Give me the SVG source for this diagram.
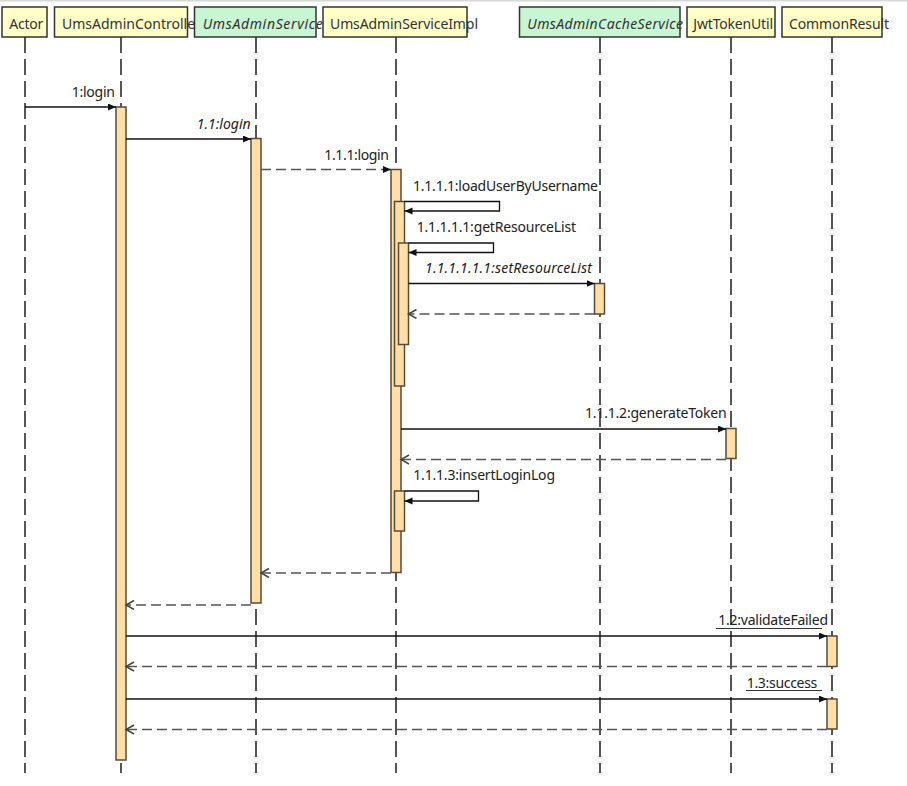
<svg xmlns="http://www.w3.org/2000/svg" width="907" height="786" viewBox="0 0 907 786">
<defs>
<style>
.hd{stroke:#333;stroke-width:1.5}
.y{fill:#FFFFC8}
.g{fill:#C8F5D2}
.ll{stroke:#555;stroke-width:2;stroke-dasharray:16 6;fill:none}
.act{fill:#FFDFA6;stroke:#5a4a38;stroke-width:1.5}
.t{font-family:"Noto Sans",sans-serif;font-size:14px;fill:#222}
.ht{fill:#333}
.i{font-style:italic}
.msg{stroke:#111;stroke-width:1.3;fill:none;marker-end:url(#fa)}
.dm{stroke:#555;stroke-width:1.5;stroke-dasharray:10 5;fill:none;marker-end:url(#fa)}
.ret{stroke:#555;stroke-width:1.5;stroke-dasharray:10 5;fill:none;marker-end:url(#oa)}
.ul{stroke:#333;stroke-width:1}
</style>
<marker id="fa" markerUnits="userSpaceOnUse" markerWidth="10" markerHeight="10" refX="8" refY="3.5" orient="auto" viewBox="0 0 10 10">
<path d="M0,0 L8,3.5 L0,7 z" fill="#111"/>
</marker>
<marker id="oa" markerUnits="userSpaceOnUse" markerWidth="12" markerHeight="12" refX="9" refY="5" orient="auto" viewBox="0 0 12 12">
<path d="M1,0.5 L9,5 L1,9.5" fill="none" stroke="#444" stroke-width="1.5"/>
</marker>
</defs>
<rect width="907" height="786" fill="#fff"/>
<line x1="0" y1="0.5" x2="907" y2="0.5" stroke="#d8d8d8" stroke-width="2"/>

<g id="actor">
<line class="ll" x1="25" y1="37" x2="25" y2="773"/>
<rect class="hd y" x="2" y="7" width="45" height="30"/>
<text class="t ht" x="9.3" y="29" textLength="34">Actor</text>
</g>

<g id="controller">
<line class="ll" x1="121" y1="37" x2="121" y2="773"/>
<rect class="hd y" x="54.5" y="7" width="133" height="30"/>
<text class="t ht" x="62" y="29">UmsAdminControlle</text>
<rect class="act" x="116" y="107" width="10" height="653"/>
</g>

<g id="service">
<line class="ll" x1="256" y1="37" x2="256" y2="773"/>
<rect class="hd g" x="194.5" y="7" width="121.5" height="30"/>
<text class="t ht i" x="202.7" y="29" textLength="120">UmsAdminService</text>
<rect class="act" x="251" y="138.5" width="10" height="464.5"/>
</g>

<g id="serviceImpl">
<line class="ll" x1="396" y1="37" x2="396" y2="773"/>
<rect class="hd y" x="323" y="7" width="144" height="30"/>
<text class="t ht" x="330" y="29" textLength="148">UmsAdminServiceImpl</text>
<rect class="act" x="391" y="169.5" width="10" height="403"/>
<rect class="act" x="394.5" y="201.5" width="10" height="184.5"/>
<rect class="act" x="398.5" y="243" width="10" height="101.5"/>
<rect class="act" x="394.5" y="491" width="10" height="40"/>
</g>

<g id="cacheService">
<line class="ll" x1="600" y1="37" x2="600" y2="773"/>
<rect class="hd g" x="519.5" y="7" width="160.5" height="30"/>
<text class="t ht i" x="527.3" y="29" textLength="155.7">UmsAdminCacheService</text>
<rect class="act" x="594.5" y="283.5" width="10" height="30.5"/>
</g>

<g id="jwtTokenUtil">
<line class="ll" x1="731" y1="37" x2="731" y2="773"/>
<rect class="hd y" x="687" y="7" width="88" height="30"/>
<text class="t ht" x="693.3" y="29" textLength="79.7">JwtTokenUtil</text>
<rect class="act" x="726" y="428.5" width="10" height="30"/>
</g>

<g id="commonResult">
<line class="ll" x1="832" y1="37" x2="832" y2="773"/>
<rect class="hd y" x="782" y="7" width="100" height="30"/>
<text class="t ht" x="789" y="29" textLength="100">CommonResult</text>
<rect class="act" x="827" y="636" width="10" height="30.5"/>
<rect class="act" x="827" y="699" width="10" height="30"/>
</g>

<g id="connectors">
<path class="msg" d="M25,107 H116"/>
<text class="t" x="71.7" y="97" textLength="43.3">1:login</text>
<path class="msg" d="M126,139 H251"/>
<text class="t i" x="196.7" y="128.5" textLength="54">1.1:login</text>
<path class="dm" d="M261,169.5 H391"/>
<text class="t" x="324.3" y="159.5" textLength="64.7">1.1.1:login</text>
<path class="msg" d="M404.5,201.5 H499.5 V211 H404.5"/>
<text class="t" x="413" y="190.5" textLength="185">1.1.1.1:loadUserByUsername</text>
<path class="msg" d="M408.5,243 H493.5 V252.5 H408.5"/>
<text class="t" x="416.7" y="231.5" textLength="159.3">1.1.1.1.1:getResourceList</text>
<path class="msg" d="M408.5,283.5 H594.5"/>
<text class="t i" x="425" y="273" textLength="167">1.1.1.1.1.1:setResourceList</text>
<path class="ret" d="M594.5,314 H408.5"/>
<path class="msg" d="M401,429 H726"/>
<text class="t" x="585" y="418" textLength="141.7">1.1.1.2:generateToken</text>
<path class="ret" d="M726,459.5 H401"/>
<path class="msg" d="M404.5,491 H478.5 V501 H404.5"/>
<text class="t" x="413.3" y="480" textLength="141.7">1.1.1.3:insertLoginLog</text>
<path class="ret" d="M391,573 H261"/>
<path class="ret" d="M251,605 H126"/>
<path class="msg" d="M126,636 H827"/>
<text class="t" x="718.3" y="625" textLength="109.7">1.2:validateFailed</text>
<line class="ul" x1="716" y1="628.5" x2="822" y2="628.5"/>
<path class="ret" d="M827,666.5 H126"/>
<path class="msg" d="M126,699 H827"/>
<text class="t" x="746.7" y="688" textLength="70.6">1.3:success</text>
<line class="ul" x1="746" y1="690.5" x2="822" y2="690.5"/>
<path class="ret" d="M827,729.5 H126"/>
</g>
</svg>
